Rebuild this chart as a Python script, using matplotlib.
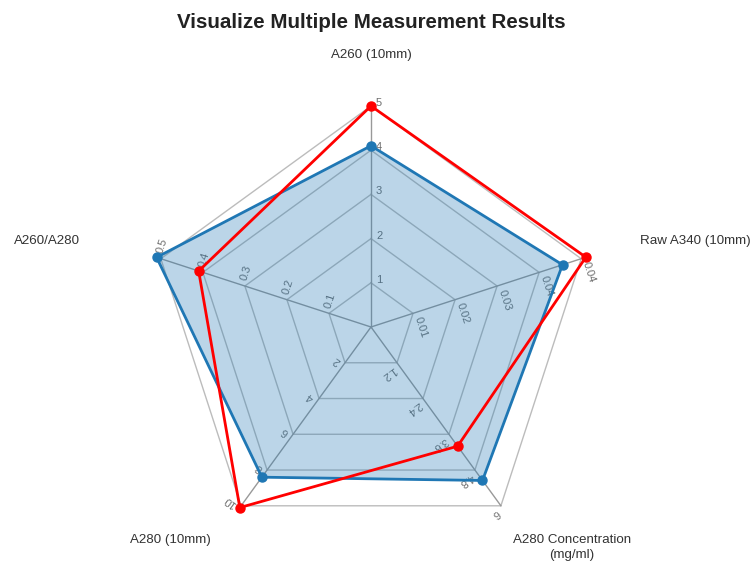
import numpy as np
import matplotlib
matplotlib.use("Agg")
import matplotlib.pyplot as plt

plt.rcParams["font.family"] = ["Liberation Sans", "DejaVu Sans"]

TITLE = "Visualize Multiple Measurement Results"
INDICATORS = ["A260 (10mm)", "Raw A340 (10mm)", "A280 Concentration\n(mg/ml)",
              "A280 (10mm)", "A260/A280"]
AXIS_MAX = [5, 0.045, 6, 10, 0.5]
TICK_LABELS = [
    ["1", "2", "3", "4", "5"],
    ["0.01", "0.02", "0.03", "0.04", "0.04"],
    ["1.2", "2.4", "3.6", "4.8", "6"],
    ["2", "4", "6", "8", "10"],
    ["0.1", "0.2", "0.3", "0.4", "0.5"],
]
SERIES_BLUE = [4.1, 0.041, 5.15, 8.4, 0.51]
SERIES_RED = [5.0, 0.046, 4.0, 10.1, 0.41]

# layout (pixel space)
CX, CY, R = 371, 327, 221
SPLITS = 5
ANGLES = np.deg2rad([90, 18, -54, -126, 162])
NAME_OFFSETS = [(0, -51, "center"), (59, -18, "left"), (71, 42, "center"),
                (-71, 34, "center"), (-81, -18, "right")]


def to_xy(values):
    r = np.asarray(values, dtype=float) / np.asarray(AXIS_MAX, dtype=float) * R
    return CX + r * np.cos(ANGLES), CY - r * np.sin(ANGLES)


fig = plt.figure(figsize=(7.54, 5.63), dpi=100)
ax = fig.add_axes([0, 0, 1, 1])
ax.set_xlim(0, 754)
ax.set_ylim(563, 0)
ax.axis("off")

# grid rings
for k in range(1, SPLITS + 1):
    frac = k / SPLITS
    xs, ys = to_xy([m * frac for m in AXIS_MAX])
    ax.plot(np.append(xs, xs[0]), np.append(ys, ys[0]), color="#bcbcbc", lw=1, zorder=1)

# spokes
xs_end, ys_end = to_xy(AXIS_MAX)
for xe, ye in zip(xs_end, ys_end):
    ax.plot([CX, xe], [CY, ye], color="#999999", lw=1, zorder=1)

# tick labels along each axis
for i, th in enumerate(ANGLES):
    u = np.array([np.cos(th), -np.sin(th)])
    n = np.array([np.sin(th), np.cos(th)])
    for k, lab in enumerate(TICK_LABELS[i], start=1):
        p = np.array([CX, CY]) + u * (R * k / SPLITS + 3) + n * 5
        ax.text(p[0], p[1], lab, rotation=np.rad2deg(th) - 90, rotation_mode="anchor",
                ha="left", va="center", fontsize=8, color="#6e6e6e", zorder=2)

# axis names
for i, name in enumerate(INDICATORS):
    dx, dy, ha = NAME_OFFSETS[i]
    ax.text(xs_end[i] + dx, ys_end[i] + dy, name, ha=ha, va="center",
            fontsize=9.6, color="#333333", linespacing=1.35, multialignment="center")

# series
bx, by = to_xy(SERIES_BLUE)
ax.fill(bx, by, color="#1f77b4", alpha=0.3, lw=0, zorder=3)
ax.plot(np.append(bx, bx[0]), np.append(by, by[0]), color="#1f77b4", lw=2, zorder=4)
ax.plot(bx, by, "o", color="#1f77b4", ms=6.5, zorder=5)

rx, ry = to_xy(SERIES_RED)
ax.plot(np.append(rx, rx[0]), np.append(ry, ry[0]), color="#ff0000", lw=2, zorder=4)
ax.plot(rx, ry, "o", color="#ff0000", ms=6.5, zorder=5)

ax.text(CX, 22, TITLE, ha="center", va="center", fontsize=14.8, fontweight="bold",
        color="#222222")

fig.savefig("out.png", dpi=100)
